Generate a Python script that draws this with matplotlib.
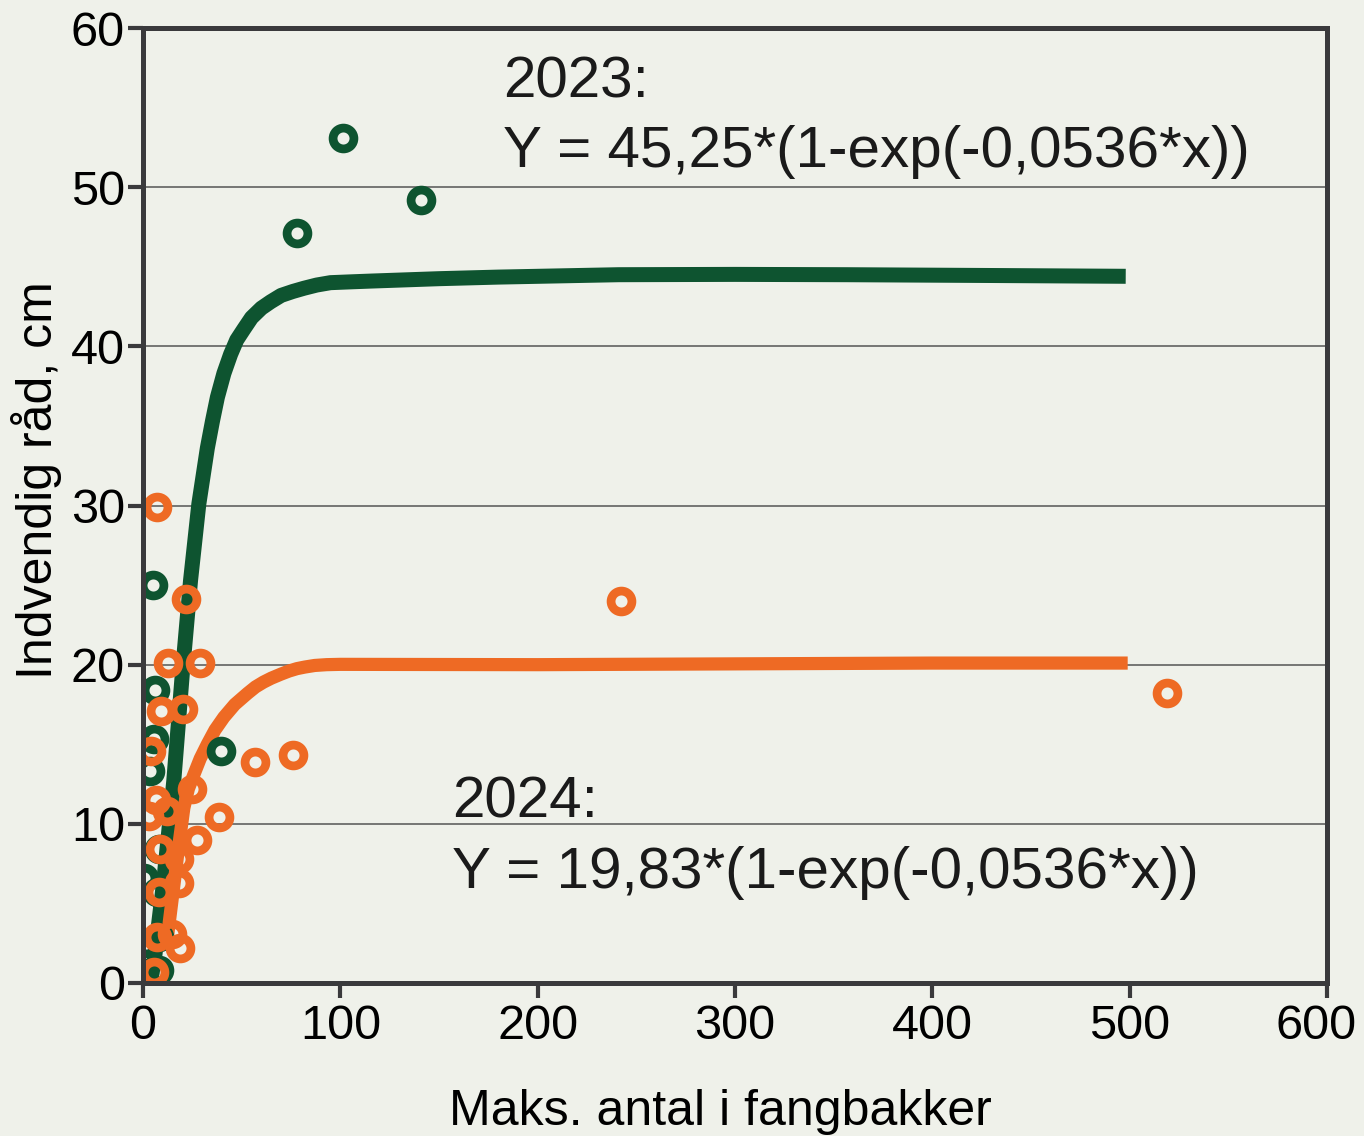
import matplotlib
matplotlib.use("Agg")
import matplotlib.pyplot as plt
from matplotlib.transforms import ScaledTranslation

# ---- data ----
green_x = [101.5, 141, 78, 5.3, 6.3, 5.5, 3.8, 39.3, 8, 0.4, 7.2, 1.3, 8, 8, 0.4]
green_y = [53.1, 49.2, 47.1, 25.0, 18.4, 15.3, 13.3, 14.6, 8.4, 6.6, 5.7, 2.5, 2.9, 0.8, 0.6]

orange_x = [7.2, 21.6, 242, 12.8, 29, 519, 8.9, 20.5, 4.3, 57, 76, 25, 6.5, 3, 12.3,
            38.5, 27.5, 8.5, 18.2, 18.2, 8, 14.8, 7.2, 19, 5.5]
orange_y = [29.9, 24.1, 24.0, 20.1, 20.1, 18.2, 17.1, 17.2, 14.6, 13.9, 14.3, 12.2, 11.5, 10.5, 10.8,
            10.4, 9.0, 8.4, 7.8, 6.3, 5.7, 3.1, 2.9, 2.2, 0.7]

# fitted curves as drawn in the reference (read point by point)
green_curve_x = [3.5, 5.5, 10.6, 15.6, 19.9, 24.1, 28.3, 32.6, 35.2, 37.7, 41.0, 44.4, 47.5, 51.2,
                 55.0, 60.0, 64.7, 70.0, 76.0, 81.6, 88.0, 95.0, 105.0, 115.5, 150.0, 180.0,
                 241.0, 300.0, 357.0, 430.0, 498.0]
green_curve_y = [0.0, 1.2, 6.5, 12.7, 19.4, 25.3, 30.1, 33.6, 35.3, 36.8, 38.3, 39.5, 40.4, 41.1,
                 41.8, 42.4, 42.8, 43.2, 43.45, 43.65, 43.85, 44.0, 44.05, 44.1, 44.25, 44.35,
                 44.5, 44.52, 44.5, 44.45, 44.4]

orange_curve_x = [12.0, 15.0, 18.0, 20.7, 23.0, 25.8, 29.0, 32.6, 36.5, 41.0, 46.5, 53.0, 57.0,
                  61.0, 65.0, 69.8, 74.0, 78.0, 82.0, 87.0, 93.0, 100.0, 200.0, 300.0, 400.0, 499.0]
orange_curve_y = [2.5, 5.5, 8.5, 11.0, 12.2, 13.1, 14.1, 15.0, 15.9, 16.7, 17.5, 18.2, 18.6,
                  18.9, 19.15, 19.4, 19.6, 19.75, 19.85, 19.95, 20.0, 20.02, 20.0, 20.05, 20.1, 20.1]

x_ticks = [0, 100, 200, 300, 400, 500, 600]
y_ticks = [0, 10, 20, 30, 40, 50, 60]

eq_2023 = ["2023:", "Y = 45,25*(1-exp(-0,0536*x))"]
eq_2024 = ["2024:", "Y = 19,83*(1-exp(-0,0536*x))"]
x_label = "Maks. antal i fangbakker"
y_label = "Indvendig råd, cm"

# ---- styling ----
BG = "#EFF1EA"
GREEN = "#0E5430"
ORANGE = "#EE6A24"
SPINE = "#3A3A3C"

plt.rcParams["font.family"] = ["Liberation Sans", "DejaVu Sans"]

W, H = 1364, 1136
fig = plt.figure(figsize=(W / 100, H / 100), dpi=100, facecolor=BG)
ax = fig.add_axes([143 / W, 1 - 983 / H, (1327 - 143) / W, (983 - 28) / H])
ax.set_facecolor(BG)

ax.set_xlim(0, 600)
ax.set_ylim(0, 60)
ax.set_xticks(x_ticks)
ax.set_yticks(y_ticks)
ax.set_xticklabels([str(v) for v in x_ticks])
ax.set_yticklabels([str(v) for v in y_ticks])

for v in y_ticks[1:-1]:
    ax.axhline(v, color="#555555", lw=1.1, zorder=1)

for s in ax.spines.values():
    s.set_color(SPINE)
    s.set_linewidth(3.6)
    s.set_zorder(10)

ax.tick_params(axis="both", direction="out", length=11, width=3, color=SPINE,
               labelsize=35, labelcolor="black")
ax.tick_params(axis="y", pad=2)
ax.tick_params(axis="x", pad=4)

# shift the last x tick label slightly left so it stays inside the figure
last = ax.get_xticklabels()[-1]
last.set_transform(last.get_transform() + ScaledTranslation(-8 / 72, 0, fig.dpi_scale_trans))

ax.plot(green_curve_x, green_curve_y, color=GREEN, lw=10.8, solid_capstyle="butt",
        solid_joinstyle="round", zorder=3)
ax.plot(orange_curve_x, orange_curve_y, color=ORANGE, lw=9.5, solid_capstyle="butt",
        solid_joinstyle="round", zorder=3)

ax.plot(green_x, green_y, linestyle="none", marker="o", ms=15, mew=6.3,
        mfc="none", mec=GREEN, zorder=4, clip_on=True)
ax.plot(orange_x, orange_y, linestyle="none", marker="o", ms=15, mew=6.3,
        mfc="none", mec=ORANGE, zorder=5, clip_on=True)

txt_kw = dict(fontsize=42, color="#1a1a1a", ha="left", va="baseline")
fig.text(503 / W, 1 - 98 / H, eq_2023[0], **txt_kw)
fig.text(503 / W, 1 - 167 / H, eq_2023[1], **txt_kw)
fig.text(452 / W, 1 - 818 / H, eq_2024[0], **txt_kw)
fig.text(452 / W, 1 - 888 / H, eq_2024[1], **txt_kw)

fig.text(720 / W, 1 - 1125 / H, x_label, fontsize=36, ha="center", va="baseline", color="black")
fig.text(37 / W, 1 - 480 / H, y_label, fontsize=36, ha="center", va="center",
         rotation=90, color="black")

fig.savefig("out.png", dpi=100, facecolor=BG)
